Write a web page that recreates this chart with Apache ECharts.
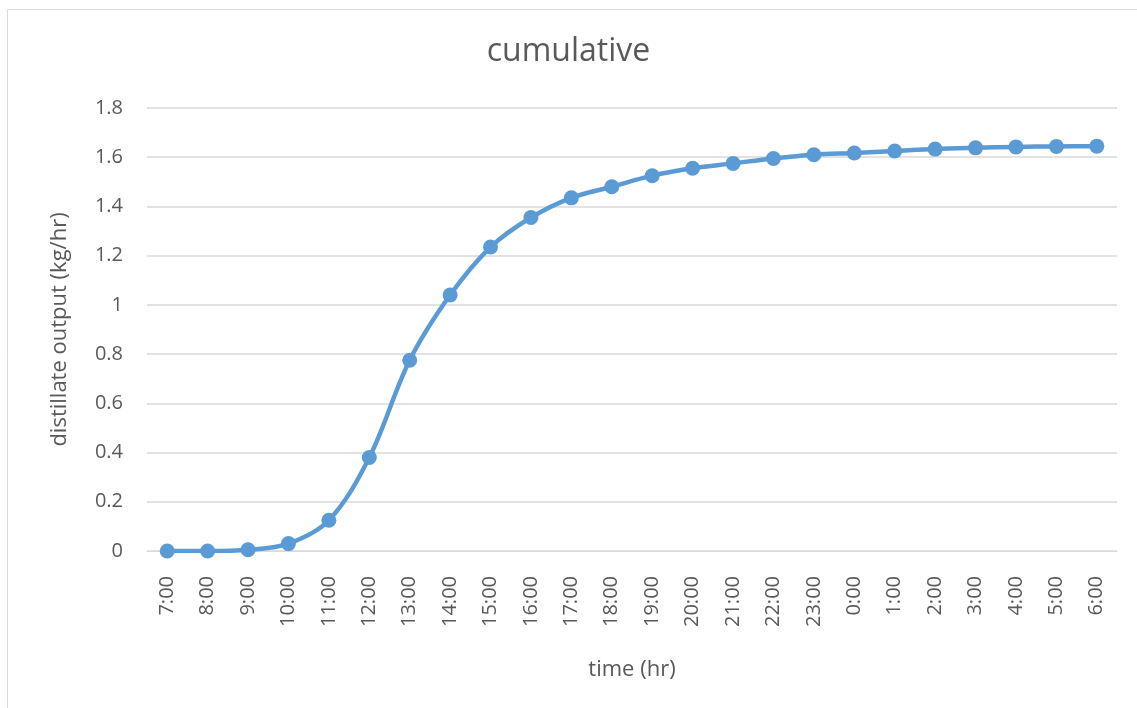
<!DOCTYPE html>
<html><head><meta charset="utf-8">
<script src="https://cdn.jsdelivr.net/npm/echarts@6/dist/echarts.min.js"></script>
<style>html,body{margin:0;padding:0;background:#fff}#c{width:1137px;height:708px}</style>
</head><body><div id="c"></div>
<script>
const categories = ["7:00","8:00","9:00","10:00","11:00","12:00","13:00","14:00","15:00","16:00","17:00","18:00","19:00","20:00","21:00","22:00","23:00","0:00","1:00","2:00","3:00","4:00","5:00","6:00"];
const cumulative = [0,0,0.005,0.03,0.125,0.38,0.775,1.04,1.235,1.355,1.435,1.48,1.525,1.555,1.575,1.595,1.61,1.617,1.625,1.633,1.638,1.642,1.644,1.645];
const yTicks = {min:0, max:1.8, interval:0.2};
const font = "'Open Sans', 'Liberation Sans', sans-serif";
const chart = echarts.init(document.getElementById('c'), null, {renderer:'canvas'});
chart.setOption({
  animation:false,
  graphic:[{type:'rect', shape:{x:7.5,y:9.5,width:1140,height:710}, style:{fill:'none', stroke:'#d9d9d9', lineWidth:1}}],
  title:{text:'cumulative', left:'center', top:31, textStyle:{fontFamily:font, fontSize:32, fontWeight:'normal', color:'#595959'}},
  grid:{left:147, right:20, top:108, bottom:157},
  xAxis:{type:'category', data:categories, boundaryGap:true,
    name:'time (hr)', nameLocation:'middle', nameGap:108,
    nameTextStyle:{fontFamily:font, fontSize:22, color:'#595959'},
    axisLine:{show:true, lineStyle:{color:'#d9d9d9', width:1}},
    axisTick:{show:false},
    axisLabel:{rotate:90, margin:25, fontFamily:font, fontSize:20, color:'#595959', interval:0}},
  yAxis:{type:'value', min:yTicks.min, max:yTicks.max, interval:yTicks.interval,
    name:'distillate output (kg/hr)', nameLocation:'middle', nameGap:76,
    nameTextStyle:{fontFamily:font, fontSize:22, color:'#595959'},
    axisLine:{show:false}, axisTick:{show:false},
    splitLine:{lineStyle:{color:'#d9d9d9', width:1.5}},
    axisLabel:{margin:24, fontFamily:font, fontSize:20, color:'#595959',
      formatter:v=>{const r=Math.round(v*10)/10; return String(r);}}},
  series:[{type:'line', data:cumulative, smooth:0.35, symbol:'circle', symbolSize:15,
    lineStyle:{color:'#5B9BD5', width:4.5}, itemStyle:{color:'#5B9BD5'}}]
});
</script></body></html>
